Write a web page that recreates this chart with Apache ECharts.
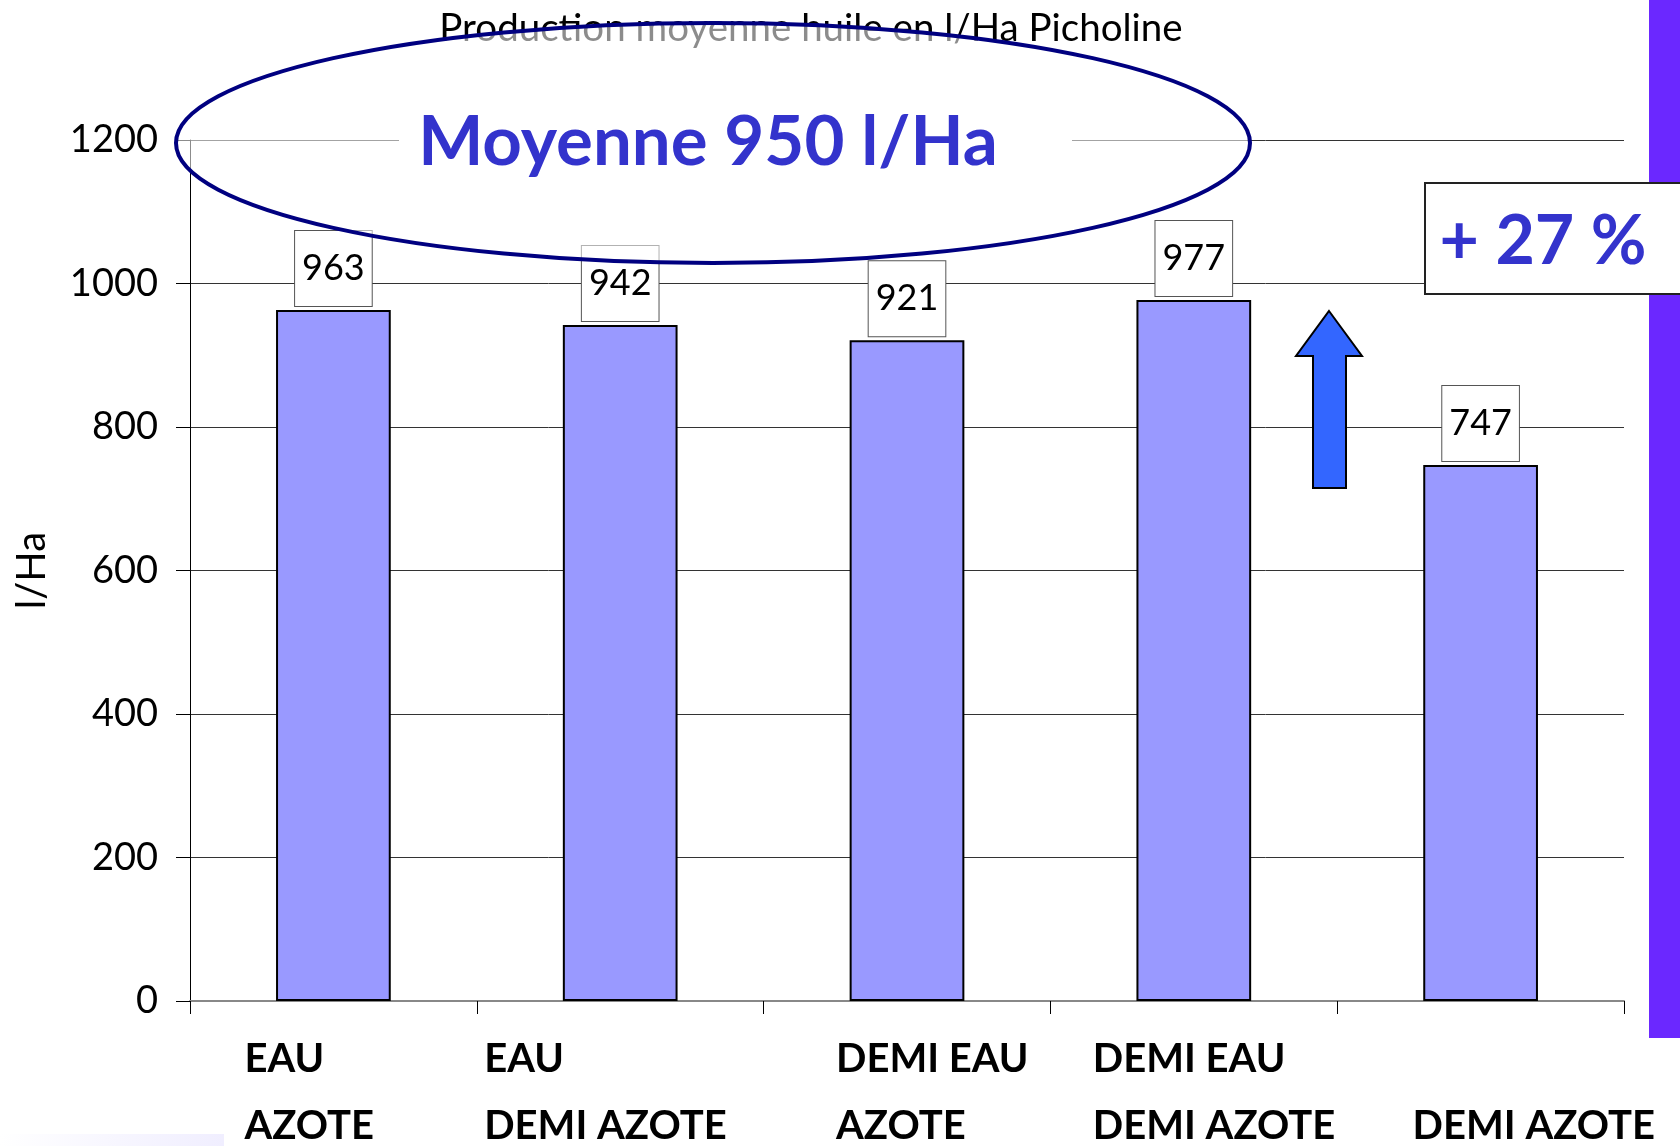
<!DOCTYPE html>
<html lang="fr">
<head>
    <meta charset="UTF-8">
    <title>Production moyenne huile Picholine</title>
    <script src="https://cdn.jsdelivr.net/npm/echarts@6/dist/echarts.min.js"></script>
    <style>
        html, body {
            margin: 0;
            padding: 0;
            background: #fff;
        }

        #chart {
            width: 1680px;
            height: 1146px;
        }
    </style>
</head>
<body>
<div id="chart"></div>
<script>
    // donnees
    const categories = ['EAU AZOTE', 'EAU DEMI AZOTE', 'DEMI EAU AZOTE', 'DEMI EAU DEMI AZOTE', 'DEMI AZOTE'];
    const labelLine1 = ['EAU', 'EAU', 'DEMI EAU', 'DEMI EAU', ''];
    const labelLine2 = ['AZOTE', 'DEMI AZOTE', 'AZOTE', 'DEMI AZOTE', 'DEMI AZOTE'];
    const production = [963, 942, 921, 977, 747];
    const yTicks = [0, 200, 400, 600, 800, 1000, 1200];

    // decalage des etiquettes (zones de texte du diaporama)
    const labelShift = [-89, -136, -71, -101, -68];

    const chart = echarts.init(document.getElementById('chart'));

    chart.setOption({
        animation: false,
        textStyle: {fontFamily: 'Lato'},
        title: {
            text: 'Production moyenne huile en l/Ha Picholine',
            left: 806,
            top: 4,
            textAlign: 'center',
            textStyle: {fontFamily: 'Lato', fontWeight: 'normal', fontSize: 38.5, color: '#000'}
        },
        grid: {left: 190, right: 56, top: 140, bottom: 145, outerBoundsMode: 'none'},
        xAxis: {
            type: 'category',
            data: categories,
            axisLine: {lineStyle: {color: '#888', width: 2}},
            axisTick: {show: true, length: 13, lineStyle: {color: '#000'}},
            axisLabel: {show: false}
        },
        yAxis: {
            type: 'value',
            min: yTicks[0],
            max: yTicks[yTicks.length - 1],
            interval: 200,
            name: 'l/Ha',
            nameLocation: 'middle',
            nameRotate: 90,
            nameGap: 138,
            nameTextStyle: {fontFamily: 'Lato', fontSize: 40, color: '#000'},
            axisLine: {show: true, lineStyle: {color: '#000', width: 1}},
            axisTick: {show: true, length: 14, lineStyle: {color: '#000'}},
            axisLabel: {
                fontFamily: 'Lato',
                fontSize: 38,
                color: '#000',
                margin: 32,
                formatter: function (v) {
                    return String(v);
                }
            },
            splitLine: {lineStyle: {color: '#333', width: 1}}
        },
        series: [{
            type: 'bar',
            data: production,
            barWidth: '40%',
            itemStyle: {color: '#9999FF', borderColor: '#000', borderWidth: 2},
            label: {
                show: true,
                position: 'top',
                distance: 4,
                fontFamily: 'Lato',
                fontSize: 36,
                lineHeight: 37,
                color: '#000',
                backgroundColor: '#fff',
                borderColor: '#555',
                borderWidth: 1,
                padding: [19, 7, 19, 7]
            }
        }]
    });

    // annotations par dessus le graphique
    const extras = [];

    // fond leger en bas a gauche
    extras.push({
        type: 'rect',
        shape: {x: 0, y: 1134, width: 224, height: 12},
        style: {
            fill: new echarts.graphic.LinearGradient(0, 0, 1, 0, [
                {offset: 0, color: '#ffffff'},
                {offset: 1, color: '#f0eeff'}
            ])
        },
        z: 10
    });

    // cache blanc du texte "Moyenne"
    extras.push({
        type: 'rect',
        shape: {x: 399, y: 95, width: 673, height: 90},
        style: {fill: '#fff'},
        z: 20
    });

    // ellipse
    extras.push({
        type: 'ellipse',
        shape: {cx: 713, cy: 143, rx: 537, ry: 120},
        style: {fill: 'rgba(255,255,255,0.55)', stroke: '#000080', lineWidth: 4},
        z: 30
    });

    extras.push({
        type: 'text',
        x: 708,
        y: 143,
        style: {
            text: 'Moyenne 950 l/Ha',
            fontFamily: 'Lato',
            fontWeight: 'bold',
            fontSize: 69,
            fill: '#3333CC',
            align: 'center',
            verticalAlign: 'middle'
        },
        z: 40
    });

    // fleche
    extras.push({
        type: 'polygon',
        shape: {
            points: [[1329, 311], [1362, 356], [1346, 356], [1346, 488],
                [1313, 488], [1313, 356], [1296, 356]]
        },
        style: {fill: '#3366FF', stroke: '#000', lineWidth: 2},
        z: 40
    });

    // bande violette a droite
    extras.push({
        type: 'rect',
        shape: {x: 1649, y: 0, width: 31, height: 1038},
        style: {fill: '#6B28FF'},
        z: 40
    });

    // encadre +27 %
    extras.push({
        type: 'rect',
        shape: {x: 1425, y: 183, width: 270, height: 111},
        style: {fill: '#fff', stroke: '#222', lineWidth: 2},
        z: 50
    });
    extras.push({
        type: 'text',
        x: 1543,
        y: 242,
        style: {
            text: '+ 27 %',
            fontFamily: 'Lato',
            fontWeight: 'bold',
            fontSize: 68,
            fill: '#3333CC',
            align: 'center',
            verticalAlign: 'middle'
        },
        z: 60
    });

    // etiquettes des categories
    categories.forEach(function (cat, i) {
        const cx = chart.convertToPixel({xAxisIndex: 0}, cat);
        const x = cx + labelShift[i];
        if (labelLine1[i]) {
            extras.push({
                type: 'text',
                x: x,
                y: 1059,
                style: {
                    text: labelLine1[i],
                    fontFamily: 'Lato',
                    fontWeight: 'bold',
                    fontSize: 40,
                    fill: '#000',
                    align: 'left',
                    verticalAlign: 'middle'
                },
                z: 40
            });
        }
        extras.push({
            type: 'text',
            x: x,
            y: 1126,
            style: {
                text: labelLine2[i],
                fontFamily: 'Lato',
                fontWeight: 'bold',
                fontSize: 40,
                fill: '#000',
                align: 'left',
                verticalAlign: 'middle'
            },
            z: 40
        });
    });

    chart.setOption({graphic: extras});
</script>
</body>
</html>
